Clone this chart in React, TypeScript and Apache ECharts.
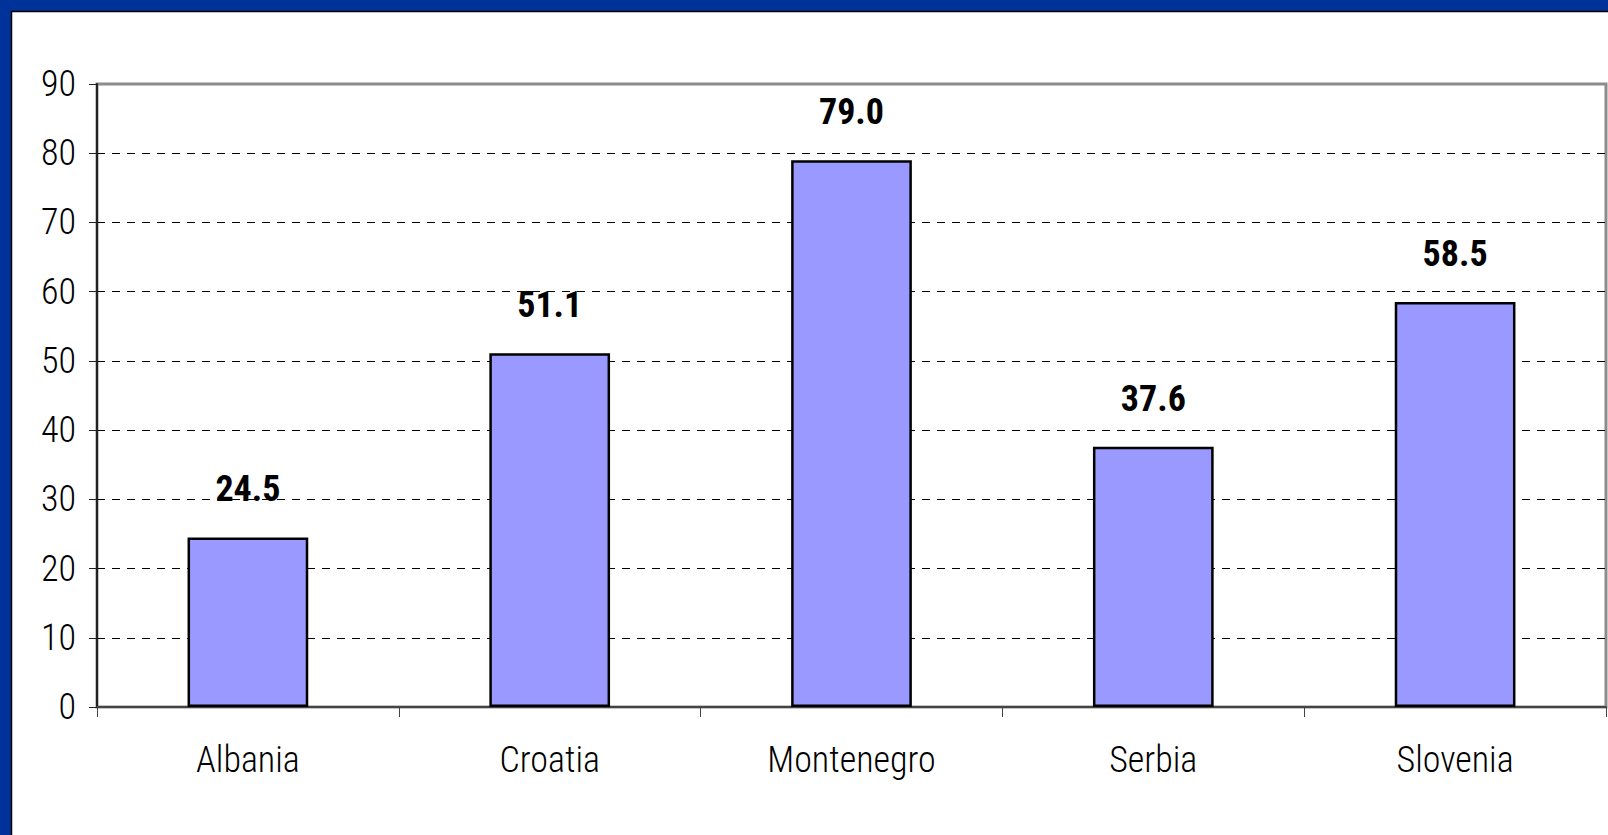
import React, { useEffect, useRef } from "react";
import * as echarts from "echarts";

const categories = ["Albania", "Croatia", "Montenegro", "Serbia", "Slovenia"];
const values = [24.5, 51.1, 79.0, 37.6, 58.5];
const yTicks = { min: 0, max: 90, interval: 10 };

const FONT = "'Roboto Condensed', 'Liberation Sans Narrow', 'Arial Narrow', sans-serif";

export default function App() {
  const ref = useRef<HTMLDivElement>(null);
  useEffect(() => {
    document.body.style.margin = "0";
    const chart = echarts.init(ref.current!, null, { renderer: "svg" });
    chart.setOption({
      animation: false,
      backgroundColor: "#ffffff",
      grid: {
        left: 97,
        top: 84,
        right: 2,
        bottom: 128,
        show: true,
        borderColor: "#8c8c8c",
        borderWidth: 3,
        backgroundColor: "#ffffff",
      },
      graphic: [
        { type: "rect", shape: { x: 0, y: 0, width: 1608, height: 11 }, style: { fill: "#003399" }, z: 100 },
        { type: "rect", shape: { x: 0, y: 0, width: 11, height: 835 }, style: { fill: "#003399" }, z: 100 },
        { type: "line", shape: { x1: 11, y1: 11.5, x2: 1608, y2: 11.5 }, style: { stroke: "#000", lineWidth: 1.5 }, z: 100 },
        { type: "line", shape: { x1: 11.5, y1: 11, x2: 11.5, y2: 835 }, style: { stroke: "#000", lineWidth: 1.5 }, z: 100 },
      ],
      xAxis: {
        type: "category",
        data: categories,
        axisLine: { show: true, lineStyle: { color: "#444", width: 2 } },
        axisTick: { show: true, length: 10, lineStyle: { color: "#444", width: 1 } },
        axisLabel: {
          color: "#000",
          fontFamily: FONT,
          fontWeight: 300,
          fontSize: 36,
          margin: 35,
        },
        splitLine: { show: false },
      },
      yAxis: {
        type: "value",
        min: yTicks.min,
        max: yTicks.max,
        interval: yTicks.interval,
        axisLine: { show: true, lineStyle: { color: "#222", width: 2 } },
        axisTick: { show: true, length: 8, lineStyle: { color: "#222", width: 1 } },
        axisLabel: {
          color: "#000",
          fontFamily: FONT,
          fontWeight: 300,
          fontSize: 36,
          margin: 21,
        },
        splitLine: {
          show: true,
          showMinLine: false,
          showMaxLine: false,
          lineStyle: { color: "#000", width: 1, type: [8, 7] },
        },
      },
      series: [
        {
          type: "bar",
          data: values,
          barWidth: "40%",
          itemStyle: { color: "#9999ff", borderColor: "#000", borderWidth: 2.5 },
          label: {
            show: true,
            position: "top",
            distance: 30,
            color: "#000",
            fontFamily: FONT,
            fontWeight: "bold",
            fontSize: 36,
            formatter: (p: any) => Number(p.value).toFixed(1),
          },
        },
      ],
    });
    return () => chart.dispose();
  }, []);
  return (
    <div
      ref={ref}
      style={{ position: "fixed", left: 0, top: 0, width: 1608, height: 835 }}
    />
  );
}
